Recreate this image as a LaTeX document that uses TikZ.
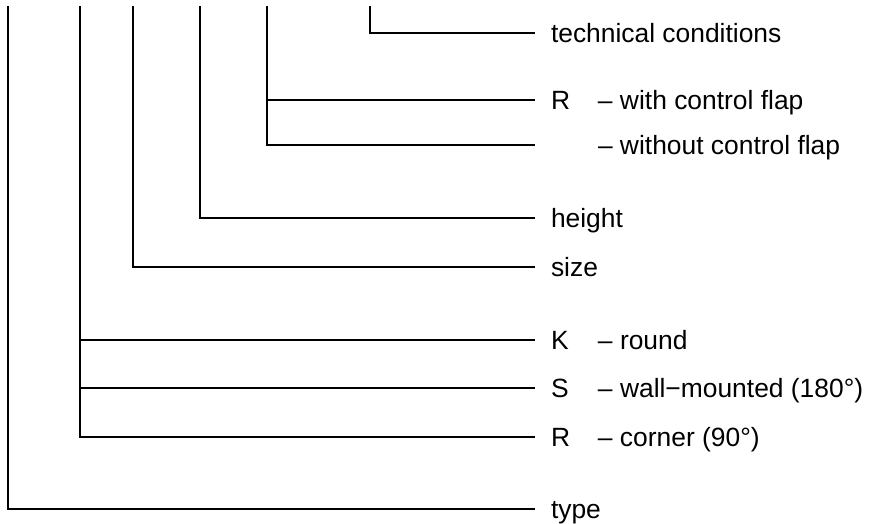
\documentclass[tikz,border=0pt]{standalone}
\usepackage{fontspec}
\setmainfont{Liberation Sans}
\newcommand{\codebox}[1]{\makebox[47pt][l]{#1}}

\begin{document}
\begin{tikzpicture}[x=1pt, y=-1pt, line width=1.6pt,
  every node/.style={anchor=west, inner xsep=16pt, inner ysep=0pt, outer sep=0pt,
    text height=19pt, text depth=0pt, font=\fontsize{26.4}{30}\selectfont}]
            \useasboundingbox (0,0) rectangle (870,524);
            % Tops of the vertical lines
            \coordinate (ttype) at (8, 6);
            \coordinate (tshape) at (80, 6);
            \coordinate (tsize) at (133, 6);
            \coordinate (theight) at (200, 6);
            \coordinate (tflap) at (267, 6);
            \coordinate (ttech) at (370, 6);

            % Labels
            \node (tech) at (535, 33) {technical conditions};
            \node (flapr) at (535, 100) {\codebox{R}– with control flap};
            \node (flapn) at (535, 145) {\codebox{}– without control flap};
            \node (height) at (535, 218) {height};
            \node (size) at (535, 267) {size};
            \node (shk) at (535, 340) {\codebox{K}– round};
            \node (shs) at (535, 388) {\codebox{S}– wall\char"2212 mounted (180°)};
            \node (shr) at (535, 437) {\codebox{R}– corner (90°)};
            \node (type) at (535, 509) {type};

            \draw (ttech) |- (tech.west);
            \draw (tflap) |- (flapn.west);
            \draw (tflap |- flapr.west) -- (flapr.west);
            \draw (theight) |- (height.west);
            \draw (tsize) |- (size.west);
            \draw (tshape) |- (shr.west);
            \draw (tshape |- shk.west) -- (shk.west);
            \draw (tshape |- shs.west) -- (shs.west);
            \draw (ttype) |- (type.west);
        \end{tikzpicture}
\end{document}
